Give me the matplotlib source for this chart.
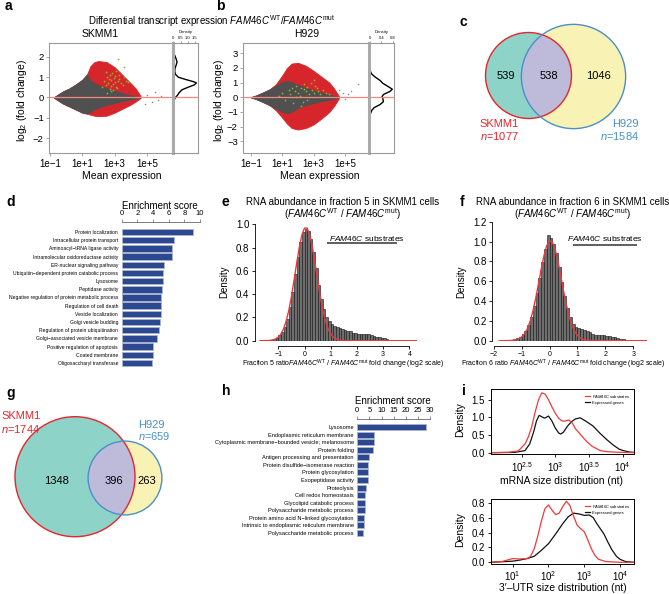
import numpy as np
import matplotlib
matplotlib.use('Agg')
import matplotlib.pyplot as plt
from matplotlib.patches import Circle
from matplotlib.ticker import NullLocator

plt.rcParams.update({
    'font.family': ['Liberation Sans', 'DejaVu Sans'],
    'mathtext.fontset': 'custom',
    'mathtext.rm': 'Liberation Sans',
    'mathtext.it': 'Liberation Sans:italic',
    'mathtext.bf': 'Liberation Sans:bold',
    'axes.unicode_minus': True,
})

# ---------------- data ----------------
# panel a (MA plot SKMM1) envelopes, x in log10(mean expression)
a_x = [-0.75, -0.5, -0.2, 0.2, 0.6, 1.0, 1.3, 1.5, 1.75, 2.0, 2.5, 3.0, 3.5, 4.0, 4.3, 4.6]
a_grey_hi = [0.02, 0.15, 0.30, 0.45, 0.65, 0.88, 1.15, 0.85, 0.72, 0.62, 0.48, 0.35, 0.22, 0.12, 0.06, 0.01]
a_grey_lo = [-0.02, -0.15, -0.30, -0.45, -0.60, -0.75, -0.80, -0.72, -0.60, -0.50, -0.38, -0.28, -0.18, -0.10, -0.05, -0.01]
a_red_hi = [0.02, 0.15, 0.30, 0.45, 0.65, 0.88, 1.15, 1.55, 1.75, 1.80, 1.75, 1.50, 1.10, 0.70, 0.45, 0.08]
a_red_lo = [-0.02, -0.15, -0.30, -0.45, -0.60, -0.75, -0.80, -0.85, -0.90, -0.92, -0.90, -0.75, -0.55, -0.35, -0.20, -0.03]
a_green_lx = [2.2, 2.35, 2.45, 2.5, 2.6, 2.65, 2.7, 2.75, 2.8, 2.85, 2.9, 2.95, 3.0, 3.05, 3.1, 3.2, 3.3,
              3.4, 3.5, 3.6, 2.45, 2.7, 2.9, 3.1, 3.3, 3.2, 3.6, 3.7, 2.8, 3.15, 3.8, 2.55]
a_green_y = [0.5, 0.8, 0.6, 1.0, 0.7, 0.9, 1.1, 0.55, 0.85, 1.2, 0.65, 0.95, 0.75, 1.05, 0.5, 0.8, 0.9,
             0.7, 0.6, 1.0, 1.25, 0.4, 0.35, 1.3, 1.1, 1.9, 1.5, 0.8, 0.3, 0.45, 0.75, 0.2]
a_out_lx = [5.0, 5.3, 5.5, 5.7, 5.9, 4.9]
a_out_y = [0.1, -0.2, 0.25, -0.1, 0.05, -0.3]
a_dens_y = [2.2, 2.05, 1.9, 1.75, 1.6, 1.45, 1.3, 1.15, 1.0, 0.88, 0.78, 0.72, 0.62, 0.5, 0.38, 0.25, 0.12, 0.0, -0.12, -0.3]
a_dens_v = [0.0, 0.12, 0.2, 0.26, 0.2, 0.12, 0.1, 0.14, 0.35, 0.9, 1.4, 1.6, 1.45, 1.0, 0.6, 0.42, 0.3, 0.15, 0.06, 0.01]

# panel b (MA plot H929)
b_x = [-1.0, -0.7, -0.3, 0.2, 0.6, 1.0, 1.3, 1.6, 2.0, 2.5, 3.0, 3.5, 4.0, 4.3, 4.6]
b_grey_hi = [0.02, 0.12, 0.30, 0.55, 0.80, 1.05, 1.12, 1.05, 0.85, 0.65, 0.48, 0.33, 0.20, 0.10, 0.02]
b_grey_lo = [-0.02, -0.12, -0.30, -0.55, -0.80, -1.00, -1.10, -1.00, -0.75, -0.55, -0.40, -0.28, -0.18, -0.10, -0.02]
b_red_hi = [0.02, 0.12, 0.30, 0.55, 0.90, 1.50, 2.00, 2.30, 2.35, 2.15, 1.80, 1.40, 1.00, 0.60, 0.10]
b_red_lo = [-0.02, -0.12, -0.30, -0.55, -0.90, -1.40, -1.80, -2.10, -2.20, -2.10, -1.85, -1.45, -1.00, -0.60, -0.10]
b_green_lx = [0.8, 1.0, 1.2, 1.4, 1.5, 1.6, 1.7, 1.8, 1.9, 2.0, 2.1, 2.2, 2.3, 2.4, 2.5, 2.6, 2.7, 2.8,
              2.9, 3.0, 3.1, 3.2, 3.3, 3.4, 3.6, 3.8, 4.0, 2.2, 2.6, 3.0, 1.9, 2.4]
b_green_y = [0.1, 0.3, -0.2, 0.5, 0.2, 0.6, -0.4, 0.4, 0.8, 0.3, 0.1, 0.6, -0.3, 0.9, 0.4, 0.7, 0.2, 1.0,
             0.5, 0.3, 0.8, 0.6, 0.4, 0.2, 0.5, 0.3, 0.2, -0.6, -0.2, 1.2, 0.0, 0.55]
b_out_lx = [4.6, 4.9, 5.2, 5.4, 5.8, 5.0]
b_out_y = [0.5, 0.3, 0.2, 0.45, 0.9, -0.1]
b_dens_y = [1.85, 1.6, 1.35, 1.15, 0.95, 0.75, 0.55, 0.4, 0.2, 0.05, -0.1, -0.3, -0.5, -0.7, -0.9, -1.1, -1.3]
b_dens_v = [0.0, 0.05, 0.2, 0.35, 0.45, 0.62, 0.78, 0.7, 0.48, 0.42, 0.45, 0.47, 0.35, 0.15, 0.06, 0.02, 0.0]

# panel c venn
c_names = ['SKMM1', 'H929']
c_totals = [1077, 1584]
c_regions = [539, 538, 1046]

# panel d
d_terms = ['Protein localization', 'Intracellular protein transport', 'Aminoacyl\u2212tRNA ligase activity',
           'Intramolecular oxidoreductase activity', 'ER-nuclear signaling pathway',
           'Ubiquitin\u2212dependent protein catabolic process', 'Lysosome', 'Peptidase activity',
           'Negative regulation of protein metabolic process', 'Regulation of cell death',
           'Vesicle localization', 'Golgi vesicle budding', 'Regulation of protein ubiquitination',
           'Golgi\u2212associated vesicle membrane', 'Positive regulation of apoptosis',
           'Coated membrane', 'Oligosaccharyl transferase']
d_scores = [9.15, 6.7, 6.47, 6.47, 5.45, 5.3, 5.3, 5.1, 5.05, 4.97, 4.97, 4.93, 4.72, 4.55, 4.04, 3.96, 3.83]

# panel e histogram (bin width 0.1)
e_heights = [0.003, 0.005, 0.008, 0.015, 0.025, 0.045, 0.075, 0.12, 0.19, 0.29, 0.42, 0.57, 0.72, 0.85, 0.93,
             0.96, 0.94, 0.87, 0.76, 0.62, 0.48, 0.36, 0.27, 0.20, 0.165,
             0.145, 0.13, 0.12, 0.11, 0.10, 0.09, 0.085, 0.08, 0.07, 0.065,
             0.06, 0.055, 0.058, 0.06, 0.055, 0.05, 0.04, 0.035, 0.03, 0.025,
             0.02, 0.015, 0.01, 0.008, 0.005, 0.003, 0.002]
e_first_center = -1.45
e_fit_x = [-1.7, -1.5, -1.4, -1.3, -1.2, -1.1, -1.0, -0.9, -0.8, -0.7, -0.6, -0.5, -0.4, -0.3, -0.2, -0.1,
           0.0, 0.1, 0.2, 0.3, 0.4, 0.5, 0.6, 0.7, 0.8, 0.9, 1.0, 1.1, 1.2, 1.3, 1.4, 1.5, 2.0, 3.0, 4.3]
e_fit_y = [0.0, 0.001, 0.001, 0.003, 0.007, 0.016, 0.031, 0.058, 0.102, 0.168, 0.26, 0.379, 0.518, 0.665, 0.802,
           0.909, 0.967, 0.967, 0.909, 0.802, 0.665, 0.518, 0.379, 0.26, 0.168, 0.102, 0.058, 0.031, 0.016,
           0.007, 0.003, 0.001, 0.0, 0.0, 0.0]

# panel f histogram
f_heights = [0.004, 0.006, 0.01, 0.015, 0.025, 0.04, 0.065, 0.10, 0.155, 0.24, 0.35, 0.48, 0.63, 0.79, 0.92, 1.07,
             1.04, 0.98, 0.88, 0.74, 0.59, 0.45, 0.33, 0.24, 0.17, 0.14,
             0.125, 0.115, 0.11, 0.10, 0.085, 0.07, 0.06, 0.055, 0.055, 0.055,
             0.05, 0.045, 0.04, 0.035, 0.025, 0.02, 0.015, 0.012, 0.008, 0.005,
             0.003]
f_first_center = -1.55
f_fit_x = [-1.8, -1.6, -1.5, -1.4, -1.3, -1.2, -1.1, -1.0, -0.9, -0.8, -0.7, -0.6, -0.5, -0.4, -0.3, -0.2, -0.1,
           0.0, 0.1, 0.2, 0.3, 0.4, 0.5, 0.6, 0.7, 0.8, 0.9, 1.0, 1.1, 1.2, 1.3, 1.4, 1.5, 2.0, 3.0, 3.5]
f_fit_y = [0.0, 0.0, 0.001, 0.002, 0.004, 0.009, 0.019, 0.037, 0.068, 0.117, 0.191, 0.292, 0.42, 0.567, 0.719,
           0.856, 0.958, 1.007, 0.995, 0.923, 0.804, 0.658, 0.506, 0.366, 0.248, 0.159, 0.095, 0.053, 0.028,
           0.014, 0.006, 0.003, 0.001, 0.0, 0.0, 0.0]

# panel g venn
g_names = ['SKMM1', 'H929']
g_totals = [1744, 659]
g_regions = [1348, 396, 263]

# panel h
h_terms = ['Lysosome', 'Endoplasmic reticulum membrane', 'Cytoplasmic membrane\u2212bounded vesicle; melanosome',
           'Protein folding', 'Antigen processing and presentation', 'Protein disulfide\u2212isomerase reaction',
           'Protein glycosylation', 'Exopeptidase activity', 'Proteolysis', 'Cell redox homeostasis',
           'Glycolipid catabolic process', 'Polysaccharide metabolic process',
           'Protein amino acid N\u2212linked glycosylation', 'Intrinsic to endoplasmic reticulum membrane',
           'Polysaccharide metabolic process']
h_scores = [28.2, 7.0, 6.9, 6.35, 4.97, 4.3, 4.3, 4.3, 3.7, 3.3, 3.2, 3.3, 2.6, 2.6, 2.2]

# panel i (log10 length)
i1_red_x = [2.0, 2.3, 2.45, 2.55, 2.6, 2.65, 2.7, 2.75, 2.8, 2.85, 2.9, 2.95, 3.0, 3.05, 3.1, 3.15, 3.2, 3.25,
            3.3, 3.4, 3.47, 3.55, 3.67, 3.77, 3.9, 4.0, 4.17]
i1_red_y = [0.0, 0.01, 0.05, 0.25, 0.45, 0.74, 1.15, 1.5, 1.70, 1.66, 1.5, 1.3, 1.12, 0.98, 0.9, 0.9, 0.93, 0.85,
            0.68, 0.46, 0.31, 0.18, 0.06, 0.03, 0.015, 0.01, 0.0]
i1_blk_x = [2.0, 2.4, 2.55, 2.62, 2.68, 2.72, 2.76, 2.8, 2.84, 2.9, 2.95, 3.0, 3.05, 3.08, 3.12, 3.18, 3.24, 3.3,
            3.37, 3.45, 3.56, 3.66, 3.76, 3.86, 3.95, 4.01, 4.1, 4.17]
i1_blk_y = [0.0, 0.01, 0.06, 0.25, 0.6, 0.9, 1.06, 1.02, 0.98, 1.04, 0.9, 0.7, 0.56, 0.53, 0.58, 0.75, 0.88, 0.96,
            0.99, 0.9, 0.76, 0.56, 0.38, 0.22, 0.1, 0.06, 0.02, 0.01]
i2_red_x = [0.4, 0.7, 0.85, 1.0, 1.2, 1.4, 1.5, 1.6, 1.7, 1.8, 1.9, 2.0, 2.1, 2.2, 2.3, 2.4, 2.5, 2.6, 2.7, 2.8,
            2.9, 3.0, 3.1, 3.2, 3.3, 3.4, 3.6, 4.0, 4.39]
i2_red_y = [0.0, 0.01, 0.03, 0.05, 0.045, 0.05, 0.08, 0.18, 0.35, 0.55, 0.72, 0.77, 0.7, 0.64, 0.66, 0.75, 0.82,
            0.76, 0.62, 0.5, 0.45, 0.41, 0.3, 0.18, 0.09, 0.04, 0.01, 0.0, 0.0]
i2_blk_x = [0.4, 0.8, 1.0, 1.2, 1.4, 1.6, 1.8, 2.0, 2.2, 2.4, 2.55, 2.7, 2.85, 3.0, 3.14, 3.25, 3.35, 3.45, 3.55,
            3.65, 3.77, 3.9, 4.0, 4.15, 4.39]
i2_blk_y = [0.0, 0.01, 0.015, 0.03, 0.05, 0.08, 0.16, 0.25, 0.38, 0.52, 0.61, 0.66, 0.65, 0.63, 0.635, 0.6, 0.52,
            0.45, 0.38, 0.28, 0.17, 0.08, 0.04, 0.01, 0.0]

# ---------------- styles / helpers ----------------
W, H = 669, 594
RED = '#D7262B'
GREY = '#505050'
GREEN = '#86B52E'
SALMON = '#F08A80'
BLUE_BAR = '#2C4891'
TEAL = '#8DD3C7'
YELLOW = '#F8F3B4'
LAV = '#BEBADA'
VRED = '#E5262D'
VBLUE = '#4A8FCB'
FRAME = '#9a9a9a'

fig = plt.figure(figsize=(W / 100, H / 100), dpi=100)


def box(l, t, r, b):
    return [l / W, 1 - b / H, (r - l) / W, (b - t) / H]


def ftext(x, y, s, **kw):
    kw.setdefault('va', 'center')
    kw.setdefault('ha', 'center')
    fig.text(x / W, 1 - y / H, s, **kw)


FAMRATIO = r'$\mathit{FAM46C}^{\mathrm{WT}}$/$\mathit{FAM46C}^{\mathrm{mut}}$'
FAMRATIO_SP = r'$\mathit{FAM46C}^{\mathrm{WT}}$ / $\mathit{FAM46C}^{\mathrm{mut}}$'

# panel letters
for lab, (x, y) in {'a': (5, 6), 'b': (216, 6), 'c': (460, 22), 'd': (6, 202), 'e': (222, 202),
                    'f': (460, 202), 'g': (6, 393), 'h': (222, 391), 'i': (462, 391)}.items():
    ftext(x, y, lab, fontsize=10, fontweight='bold', ha='left')

ftext(212, 21, 'Differential transcript expression ' + FAMRATIO, fontsize=7)


# ---------------- panels a, b ----------------
def ma_panel(rect, drect, xs, ghi, glo, rhi, rlo, glx, gy, olx, oy, xlim, ylim, yticks,
             dens_y, dens_v, dxlim, dticks, dlabels, title, tx, ylx, xlx):
    ax = fig.add_axes(box(*rect))
    ax.set_xscale('log')
    X = 10 ** np.array(xs)
    ax.fill_between(X, rlo, rhi, color=RED, lw=0.6, edgecolor=RED)
    ax.fill_between(X, glo, ghi, color=GREY, lw=0.4, edgecolor=GREY)
    ax.scatter(10 ** np.array(olx), oy, s=1.2, c='#888888', lw=0)
    ax.scatter(10 ** np.array(glx), gy, s=1.6, c=GREEN, lw=0)
    ax.axhline(0, color=SALMON, lw=0.9)
    ax.set_xlim(10 ** xlim[0], 10 ** xlim[1])
    ax.set_ylim(*ylim)
    ax.set_xticks([1e-1, 1e1, 1e3, 1e5], ['1e\u22121', '1e+1', '1e+3', '1e+5'])
    ax.xaxis.set_minor_locator(NullLocator())
    ax.set_yticks(yticks, [f'{v}'.replace('-', '\u2212') for v in yticks])
    for s in ax.spines.values():
        s.set_color(FRAME)
        s.set_linewidth(0.8)
    ax.tick_params(length=2.5, width=0.6, color=FRAME, labelsize=7, pad=1.5)
    ax.tick_params(axis='y', labelsize=6.8, pad=1.2)
    ftext(tx, 34, title, fontsize=7.5)
    ftext(ylx, 100, r'log$_2$ (fold change)', fontsize=7.5, rotation=90)
    ftext(xlx, 176, 'Mean expression', fontsize=7.5)

    dx = fig.add_axes(box(*drect))
    dx.plot(dens_v, dens_y, color='black', lw=1)
    dx.axhline(0, color=SALMON, lw=0.9)
    dx.set_ylim(*ylim)
    dx.set_xlim(*dxlim)
    dx.set_yticks([])
    dx.xaxis.tick_top()
    dx.set_xticks(dticks, dlabels)
    dx.tick_params(axis='x', length=1.5, width=0.4, labelsize=3, pad=0.5, color='#555555')
    for k, s in dx.spines.items():
        s.set_color(FRAME)
        s.set_linewidth(0.8)
    dx.spines['left'].set_linewidth(2.2)
    dx.spines['left'].set_color('#aaaaaa')
    ftext((drect[0] + drect[2]) / 2, 31.5, 'Density', fontsize=3)


ma_panel((49, 43, 172, 153), (173, 43, 198.3, 153), a_x, a_grey_hi, a_grey_lo, a_red_hi, a_red_lo,
         a_green_lx, a_green_y, a_out_lx, a_out_y, (-1.06, 6.55), (-2.74, 2.69), [-2, -1, 0, 1, 2],
         a_dens_y, a_dens_v, (-0.02, 1.73), [0, 0.5, 1.0, 1.5], ['0', '0.5', '1.0', '1.5'],
         'SKMM1', 100, 22, 122)
ma_panel((243, 43, 369.3, 153), (369.3, 43, 394.3, 153), b_x, b_grey_hi, b_grey_lo, b_red_hi, b_red_lo,
         b_green_lx, b_green_y, b_out_lx, b_out_y, (-1.51, 6.55), (-3.80, 3.70), [-3, -2, -1, 0, 1, 2, 3],
         b_dens_y, b_dens_v, (-0.024, 0.85), [0, 0.4, 0.8], ['0', '0.4', '0.8'],
         'H929', 307, 219, 320)


# ---------------- venn panels ----------------
def venn(rect, centers, k, totals, regions, num_pos, names, name_pos, name_ha):
    ax = fig.add_axes(box(*rect))
    ax.set_xlim(rect[0], rect[2])
    ax.set_ylim(rect[3], rect[1])
    ax.axis('off')
    rA = k * np.sqrt(totals[0])
    rB = k * np.sqrt(totals[1])
    cA = Circle(centers[0], rA, facecolor=TEAL, edgecolor='none')
    cB = Circle(centers[1], rB, facecolor=YELLOW, edgecolor='none')
    ax.add_patch(cA)
    ax.add_patch(cB)
    inter = Circle(centers[1], rB, facecolor=LAV, edgecolor='none')
    ax.add_patch(inter)
    inter.set_clip_path(cA)
    ax.add_patch(Circle(centers[0], rA, facecolor='none', edgecolor=VRED, lw=1.0))
    ax.add_patch(Circle(centers[1], rB, facecolor='none', edgecolor=VBLUE, lw=1.0))
    for val, (x, y) in zip(regions, num_pos):
        ax.text(x, y, str(val), ha='center', va='center', fontsize=8)
    cols = [VRED, VBLUE]
    for i in range(2):
        (x1, y1), (x2, y2) = name_pos[i]
        ftext(x1, y1, names[i], fontsize=8, color=cols[i], ha=name_ha[i])
        ftext(x2, y2, r'$\mathit{n}$=' + str(totals[i]), fontsize=8, color=cols[i], ha=name_ha[i])


venn((465, 15, 660, 150), [(528.5, 75.5), (573.5, 76.5)], 1.31, c_totals, c_regions,
     [(506, 76), (549, 76), (598, 76)], c_names,
     [((499, 124), (499, 136)), ((639, 124), (639, 136))], ['center', 'right'])
venn((0, 395, 205, 560), [(75, 476.7), (125, 478)], 1.437, g_totals, g_regions,
     [(57, 481), (113.7, 481), (146.7, 481)], g_names,
     [((1, 416), (1, 429)), ((137.7, 425), (137.7, 436))], ['left', 'left'])


# ---------------- bar panels d, h ----------------
def enrich(rect, terms, scores, xmax, xticks, bar_h, ylim, lab_fs, lab_pad, title_pos):
    ax = fig.add_axes(box(*rect))
    ax.barh(range(len(terms)), scores, height=bar_h, color=BLUE_BAR, edgecolor='#AEB3CC', lw=0.6)
    ax.set_xlim(0, xmax)
    ax.set_ylim(*ylim)
    ax.set_yticks(range(len(terms)), terms, fontsize=lab_fs)
    ax.tick_params(axis='y', length=0, pad=lab_pad)
    ax.xaxis.tick_top()
    ax.set_xticks(xticks, [str(v) for v in xticks])
    ax.tick_params(axis='x', length=2.5, width=0.5, labelsize=5.5, pad=1, color='#666666')
    for k in ['left', 'right', 'bottom']:
        ax.spines[k].set_visible(False)
    ax.spines['top'].set_color('#666666')
    ax.spines['top'].set_linewidth(0.6)
    ax.patch.set_alpha(0)
    ftext(*title_pos, 'Enrichment score', fontsize=7)


enrich((121.7, 222, 200, 368), d_terms, d_scores, 10, [0, 2, 4, 6, 8, 10], 0.78, (16.61, -1.22), 3.6, 2.6,
       (160, 206))
enrich((357.3, 419, 430, 538), h_terms, h_scores, 30, [0, 5, 10, 15, 20, 25, 30], 0.78, (14.66, -1.06), 4.1,
       2.4, (393, 401))


# ---------------- histogram panels e, f ----------------
def hist_panel(rect, heights, first_c, fit_x, fit_y, xlim, ylim, ybound, xticks, yticks, title1, tpos,
               xlab, xlpos, ylpos, sub_xy, line_x, line_y):
    ax = fig.add_axes(box(*rect))
    centers = first_c + 0.1 * np.arange(len(heights))
    ax.bar(centers, heights, width=0.1, color='#6e6e6e', edgecolor='#111111', lw=0.4)
    ax.plot(fit_x, fit_y, color='#E8383D', lw=1.0)
    ax.set_xlim(*xlim)
    ax.set_ylim(*ylim)
    for k in ['top', 'right']:
        ax.spines[k].set_visible(False)
    ax.spines['left'].set_bounds(*ybound)
    ax.spines['bottom'].set_bounds(xticks[0], xticks[-1])
    ax.spines['bottom'].set_position(('outward', 4))
    for k in ['left', 'bottom']:
        ax.spines[k].set_linewidth(0.6)
    ax.set_xticks(xticks, [f'{v}'.replace('-', '\u2212') for v in xticks])
    ax.set_yticks(yticks, [f'{v:.1f}' for v in yticks])
    ax.tick_params(axis='y', length=2.5, width=0.6, labelsize=7, pad=1.5)
    ax.tick_params(axis='x', length=2.5, width=0.6, labelsize=5, pad=1)
    ax.text(sub_xy[0], sub_xy[1], r'$\mathit{FAM46C}$ substrates', ha='center', va='center', fontsize=6)
    ax.plot(line_x, line_y, color='#333333', lw=1.1, solid_capstyle='butt')
    ftext(tpos[0], tpos[1], title1, fontsize=7)
    ftext(tpos[0], tpos[1] + 12, '(' + FAMRATIO_SP + ')', fontsize=7)
    ftext(xlpos[0], xlpos[1], xlab, fontsize=5)
    ftext(ylpos[0], ylpos[1], 'Density', fontsize=7, rotation=90)


hist_panel((255, 220.5, 417.2, 340.7), e_heights, e_first_center, e_fit_x, e_fit_y, (-1.89, 4.3), (0, 1.032),
           (0, 1.0), [-1, 0, 1, 2, 3, 4], [0.0, 0.2, 0.4, 0.6, 0.8, 1.0],
           'RNA abundance in fraction 5 in SKMM1 cells', (343, 202),
           'Fraction 5 ratio' + FAMRATIO_SP + ' fold change (log2 scale)', (343, 364), (224, 282),
           (2.39, 0.88), [0.87, 3.52], [0.835, 0.835])
hist_panel((492.3, 219.7, 647.2, 340.7), f_heights, f_first_center, f_fit_x, f_fit_y, (-2.05, 3.5), (0, 1.22),
           (0, 1.2), [-2, -1, 0, 1, 2, 3], [0.0, 0.2, 0.4, 0.6, 0.8, 1.0, 1.2],
           'RNA abundance in fraction 6 in SKMM1 cells', (573, 202),
           'Fraction 6 ratio ' + FAMRATIO_SP + ' fold change (log2 scale)', (563, 364), (461, 282),
           (1.99, 1.03), [0.83, 3.13], [0.965, 0.965])


# ---------------- panel i ----------------
def dens_panel(rect, rx, ry, bx, by, xlim, ylim, xticks, xlabels, yticks, xlab, xlpos, ylpos):
    ax = fig.add_axes(box(*rect))
    ax.set_xscale('log')
    ax.plot(10 ** np.array(bx), by, color='#111111', lw=0.9, label='Expressed genes')
    ax.plot(10 ** np.array(rx), ry, color='#EE3B3B', lw=0.9, label=r'$\mathit{FAM46C}$ substrates')
    ax.set_xlim(10 ** xlim[0], 10 ** xlim[1])
    ax.set_ylim(*ylim)
    ax.set_xticks(10 ** np.array(xticks), xlabels)
    ax.xaxis.set_minor_locator(NullLocator())
    ax.set_yticks(yticks, [f'{v:.1f}' for v in yticks])
    ax.tick_params(length=2.5, width=0.6, labelsize=7, pad=1.5)
    for s in ax.spines.values():
        s.set_linewidth(0.7)
    h, l = ax.get_legend_handles_labels()
    ax.legend(h[::-1], l[::-1], loc='upper right', fontsize=3, handlelength=1.3, frameon=False,
              borderaxespad=0.4, labelspacing=0.3, handletextpad=0.5)
    ftext(xlpos[0], xlpos[1], xlab, fontsize=7.5)
    ftext(ylpos[0], ylpos[1], 'Density', fontsize=7.5, rotation=90)


dens_panel((490.7, 389.3, 634, 454.3), i1_red_x, i1_red_y, i1_blk_x, i1_blk_y, (2.04, 4.17), (-0.045, 1.8),
           [2.5, 3.0, 3.5, 4.0], [r'$10^{2.5}$', r'$10^{3}$', r'$10^{3.5}$', r'$10^{4}$'], [0.0, 0.5, 1.0, 1.5],
           'mRNA size distribution (nt)', (562, 481), (460, 420))
dens_panel((490.7, 499.3, 634, 564), i2_red_x, i2_red_y, i2_blk_x, i2_blk_y, (0.385, 4.39), (-0.023, 0.846),
           [1, 2, 3, 4], [r'$10^{1}$', r'$10^{2}$', r'$10^{3}$', r'$10^{4}$'], [0.0, 0.2, 0.4, 0.6, 0.8],
           '3\u2032\u2013UTR size distribution (nt)', (563, 588), (460, 530))

fig.savefig('out.png', dpi=100)
